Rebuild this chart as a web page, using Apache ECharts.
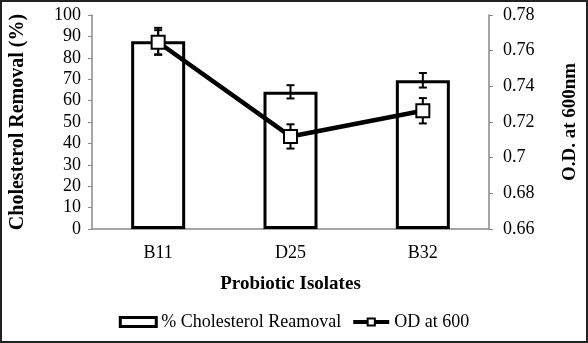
<!DOCTYPE html>
<html><head><meta charset="utf-8">
<script src="https://cdn.jsdelivr.net/npm/echarts@6/dist/echarts.min.js"></script>
<style>html,body{margin:0;padding:0;background:#fff}#c{width:588px;height:343px}</style>
</head><body><div id="c"></div>
<script>
const categories = ['B11', 'D25', 'B32'];
const removal = [87.7, 64.1, 69.5];
const removalErr = [6.3, 3.1, 3.4];
const od = [0.7647, 0.7119, 0.7263];
const odErr = [0.0068, 0.0068, 0.0071];
const leftTicks = [0, 100, 10];
const rightTicks = [0.66, 0.78, 0.02];

const chart = echarts.init(document.getElementById('c'));
const serif = "'Liberation Serif','Times New Roman',serif";

function errItem(yIdx) {
  return function (params, api) {
    const x = api.value(0), v = api.value(1), e = api.value(2);
    const top = api.coord([x, v + e]);
    const bot = api.coord([x, v - e]);
    const cw = 4;
    const st = { stroke: '#000', lineWidth: 2 };
    return { type: 'group', children: [
      { type: 'line', shape: { x1: top[0], y1: top[1], x2: bot[0], y2: bot[1] }, style: st },
      { type: 'line', shape: { x1: top[0]-cw, y1: top[1], x2: top[0]+cw, y2: top[1] }, style: st },
      { type: 'line', shape: { x1: bot[0]-cw, y1: bot[1], x2: bot[0]+cw, y2: bot[1] }, style: st }
    ]};
  };
}

chart.setOption({
  animation: false,
  textStyle: { fontFamily: serif, color: '#000' },
  graphic: [{ type: 'rect', shape: { x: 1, y: 1, width: 586, height: 341 }, style: { fill: 'none', stroke: '#222', lineWidth: 2 }, silent: true }],
  grid: { left: 90, right: 97, top: 15, bottom: 114 },
  legend: {
    bottom: 7, left: 'center', itemWidth: 36, itemHeight: 9, itemGap: 10,
    textStyle: { fontFamily: serif, fontSize: 18, color: '#000' },
    data: [
      { name: '% Cholesterol Reamoval', icon: 'rect', itemStyle: { color: '#fff', borderColor: '#000', borderWidth: 3 } },
      { name: 'OD at 600', lineStyle: { width: 4, color: '#000' } }
    ]
  },
  xAxis: {
    type: 'category', data: categories,
    axisLine: { lineStyle: { color: '#888', width: 1.5 } },
    axisTick: { alignWithLabel: true, length: 3, lineStyle: { color: '#888' } },
    axisLabel: { fontFamily: serif, fontSize: 18, color: '#000', margin: 15 },
    name: 'Probiotic Isolates', nameLocation: 'middle', nameGap: 46,
    nameTextStyle: { fontFamily: serif, fontSize: 19, fontWeight: 'bold', color: '#000' }
  },
  yAxis: [
    {
      type: 'value', min: leftTicks[0], max: leftTicks[1], interval: leftTicks[2],
      axisLine: { show: true, lineStyle: { color: '#888', width: 1.5 } },
      axisTick: { show: true, length: 4, lineStyle: { color: '#888' } },
      splitLine: { show: false },
      axisLabel: { fontFamily: serif, fontSize: 18, color: '#000', margin: 11 },
      name: 'Cholesterol Removal (%)', nameLocation: 'middle', nameGap: 64, nameRotate: 90,
      nameTextStyle: { fontFamily: serif, fontSize: 20, fontWeight: 'bold', color: '#000' }
    },
    {
      type: 'value', position: 'right', min: rightTicks[0], max: rightTicks[1], interval: rightTicks[2],
      axisLine: { show: true, lineStyle: { color: '#888', width: 1.5 } },
      axisTick: { show: true, length: 4, lineStyle: { color: '#888' } },
      splitLine: { show: false },
      axisLabel: { fontFamily: serif, fontSize: 18, color: '#000', margin: 14,
        formatter: v => String(parseFloat(v.toFixed(2))) },
      name: 'O.D. at 600nm', nameLocation: 'middle', nameGap: 72, nameRotate: 90,
      nameTextStyle: { fontFamily: serif, fontSize: 19, fontWeight: 'bold', color: '#000' }
    }
  ],
  series: [
    {
      name: '% Cholesterol Reamoval', type: 'bar', data: removal, barWidth: 54, yAxisIndex: 0,
      itemStyle: { color: '#fff', borderColor: '#000', borderWidth: 3 }, z: 2
    },
    {
      type: 'custom', yAxisIndex: 0, z: 3, renderItem: errItem(0),
      data: removal.map((v, i) => [i, v, removalErr[i]])
    },
    {
      type: 'custom', yAxisIndex: 1, z: 3, renderItem: errItem(1),
      data: od.map((v, i) => [i, v, odErr[i]])
    },
    {
      name: 'OD at 600', type: 'line', data: od, yAxisIndex: 1, z: 5,
      symbol: 'rect', symbolSize: 13,
      lineStyle: { color: '#000', width: 4.5 },
      itemStyle: { color: '#fff', borderColor: '#000', borderWidth: 2 }
    }
  ]
});
</script></body></html>
